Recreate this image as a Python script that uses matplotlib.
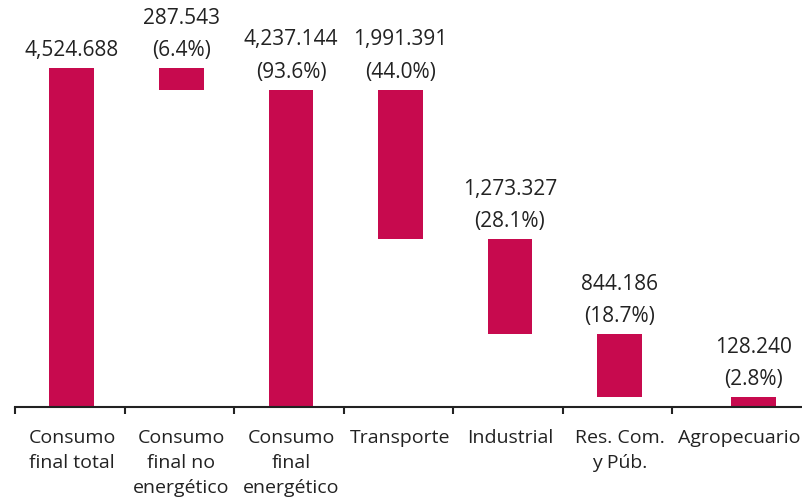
import numpy as np
import matplotlib.pyplot as plt

# datos del consumo final (PJ)
categorias = ["Consumo\nfinal total", "Consumo\nfinal no\nenergético", "Consumo\nfinal\nenergético",
              "Transporte", "Industrial", "Res. Com.\ny Púb.", "Agropecuario"]
valores = [4524.688, 287.543, 4237.144, 1991.391, 1273.327, 844.186, 128.240]
etiquetas = ["4,524.688", "287.543\n(6.4%)", "4,237.144\n(93.6%)", "1,991.391\n(44.0%)",
             "1,273.327\n(28.1%)", "844.186\n(18.7%)", "128.240\n(2.8%)"]

# bases de la cascada
total = valores[0]
energetico = valores[2]
bases = [0, energetico, 0]
tope = energetico
for v in valores[3:]:
    tope = tope - v
    bases.append(tope)
bases = np.array(bases)

plt.rcParams['font.family'] = ['Open Sans', 'DejaVu Sans']
color = '#C70A4E'
gris = '#222222'

fig = plt.figure(figsize=(8.03, 5), dpi=100)
ax = fig.add_axes([15/803, 93/500, 1 - 15/803, 407/500])

x = np.arange(len(valores), dtype=float) + 0.02
x[-1] += 0.22  # la ultima categoria va corrida a la derecha
ax.bar(x, valores, bottom=bases, width=0.41, color=color)

for i in range(len(valores)):
    ax.annotate(etiquetas[i], (x[i], bases[i] + valores[i]), xytext=(0, 5),
                textcoords='offset points', ha='center', va='bottom',
                fontsize=15, color=gris, linespacing=1.7)

# posicion de los textos del eje (el ultimo un poco a la izquierda para que quepa)
xt = x.copy()
xt[-1] -= 0.13

ax.set_xlim(-0.5, 6.696)
ax.set_ylim(0, 407 / (339 / total))
ax.set_xticks(np.arange(-0.5, 6, 1))
ax.set_xticklabels([])
ax.set_xticks(xt, minor=True)
ax.set_xticklabels(categorias, minor=True, fontsize=14, color=gris, linespacing=1.5)
ax.tick_params(axis='x', which='major', direction='out', length=5, width=1.5, color=gris)
ax.tick_params(axis='x', which='minor', length=0, pad=16)
ax.set_yticks([])
for s in ['top', 'right', 'left']:
    ax.spines[s].set_visible(False)
ax.spines['bottom'].set_linewidth(1.5)
ax.spines['bottom'].set_color(gris)

fig.savefig('out.png', dpi=100)
